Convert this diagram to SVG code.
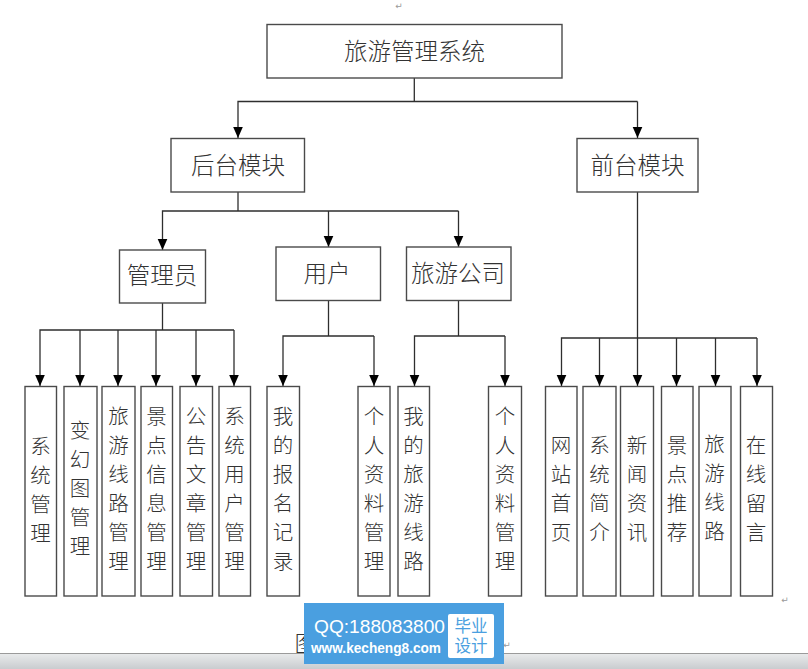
<svg xmlns="http://www.w3.org/2000/svg" width="808" height="669" viewBox="0 0 808 669">
<style>
.n rect{fill:#fff;stroke:#4a4a4a;stroke-width:1.4}
.t{font-family:"Noto Sans CJK SC","Liberation Serif",serif;fill:#333;text-anchor:middle;font-weight:300}
.h{font-size:23.5px}
.v{font-size:20.5px}
.c path{fill:none;stroke:#2e2e2e;stroke-width:1.3}
.m{font-family:"DejaVu Sans",sans-serif;font-size:9px;fill:#999}
</style>
<defs>
<marker id="a" markerUnits="userSpaceOnUse" markerWidth="12" markerHeight="12" refX="11.5" refY="5" orient="auto"><path d="M0 0L11.5 5L0 10Z" fill="#000"/></marker>
<linearGradient id="bar" x1="0" y1="0" x2="0" y2="1"><stop offset="0" stop-color="#e9ebec"/><stop offset="1" stop-color="#c9cccf"/></linearGradient>
</defs>
<rect width="808" height="669" fill="#fff"/>
<g id="connectors" class="c">
<path d="M414.3 78V101.5"/>
<path d="M637.5 101.5H238V138" marker-end="url(#a)"/>
<path d="M637.5 101.5V138" marker-end="url(#a)"/>
<path d="M238 192V211"/>
<path d="M458.5 211H162.5V250" marker-end="url(#a)"/>
<path d="M328.5 211V247" marker-end="url(#a)"/>
<path d="M458.5 211V247" marker-end="url(#a)"/>
<path d="M162.5 303V330"/>
<path d="M234 330H40V386" marker-end="url(#a)"/>
<path d="M80 330V386" marker-end="url(#a)"/>
<path d="M118 330V386" marker-end="url(#a)"/>
<path d="M156 330V386" marker-end="url(#a)"/>
<path d="M196 330V386" marker-end="url(#a)"/>
<path d="M234 330V386" marker-end="url(#a)"/>
<path d="M328.5 300V336"/>
<path d="M374 336H283V386" marker-end="url(#a)"/>
<path d="M374 336V386" marker-end="url(#a)"/>
<path d="M458.5 300V336"/>
<path d="M505 336H414.5V386" marker-end="url(#a)"/>
<path d="M505 336V386" marker-end="url(#a)"/>
<path d="M637.5 192V386" marker-end="url(#a)"/>
<path d="M757 338H561.5V386" marker-end="url(#a)"/>
<path d="M599.5 338V386" marker-end="url(#a)"/>
<path d="M676.5 338V386" marker-end="url(#a)"/>
<path d="M715.5 338V386" marker-end="url(#a)"/>
<path d="M757 338V386" marker-end="url(#a)"/>
</g>
<g id="root" class="n"><rect x="267" y="24.5" width="295" height="53.5"/><text class="t h" x="414.5" y="60">旅游管理系统</text></g>
<g id="backend" class="n"><rect x="171" y="138.5" width="133.5" height="53.5"/><text class="t h" x="238" y="173.5">后台模块</text></g>
<g id="frontend" class="n"><rect x="577" y="138.5" width="121" height="53.5"/><text class="t h" x="637.5" y="173.5">前台模块</text></g>
<g id="admin" class="n"><rect x="119.5" y="250" width="86" height="53"/><text class="t h" x="162" y="284">管理员</text></g>
<g id="user" class="n"><rect x="276" y="247" width="104.5" height="53.5"/><text class="t h" x="327" y="282">用户</text></g>
<g id="company" class="n"><rect x="406.5" y="247" width="104.5" height="53.5"/><text class="t h" x="458" y="282">旅游公司</text></g>
<g id="a1" class="n"><rect x="25" y="386.5" width="31.5" height="209.5"/><text class="t v" x="40.5"><tspan x="40.5" y="454">系</tspan><tspan x="40.5" y="483">统</tspan><tspan x="40.5" y="512">管</tspan><tspan x="40.5" y="541">理</tspan></text></g>
<g id="a2" class="n"><rect x="64" y="386.5" width="33" height="209.5"/><text class="t v" x="80"><tspan x="80" y="438">变</tspan><tspan x="80" y="467">幻</tspan><tspan x="80" y="496">图</tspan><tspan x="80" y="525">管</tspan><tspan x="80" y="554">理</tspan></text></g>
<g id="a3" class="n"><rect x="102" y="386.5" width="33" height="209.5"/><text class="t v" x="118.5"><tspan x="118.5" y="424">旅</tspan><tspan x="118.5" y="453">游</tspan><tspan x="118.5" y="482">线</tspan><tspan x="118.5" y="511">路</tspan><tspan x="118.5" y="540">管</tspan><tspan x="118.5" y="569">理</tspan></text></g>
<g id="a4" class="n"><rect x="141" y="386.5" width="31.5" height="209.5"/><text class="t v" x="156.5"><tspan x="156.5" y="424">景</tspan><tspan x="156.5" y="453">点</tspan><tspan x="156.5" y="482">信</tspan><tspan x="156.5" y="511">息</tspan><tspan x="156.5" y="540">管</tspan><tspan x="156.5" y="569">理</tspan></text></g>
<g id="a5" class="n"><rect x="180" y="386.5" width="32.5" height="209.5"/><text class="t v" x="196"><tspan x="196" y="424">公</tspan><tspan x="196" y="453">告</tspan><tspan x="196" y="482">文</tspan><tspan x="196" y="511">章</tspan><tspan x="196" y="540">管</tspan><tspan x="196" y="569">理</tspan></text></g>
<g id="a6" class="n"><rect x="219" y="386.5" width="31.5" height="209.5"/><text class="t v" x="234.5"><tspan x="234.5" y="424">系</tspan><tspan x="234.5" y="453">统</tspan><tspan x="234.5" y="482">用</tspan><tspan x="234.5" y="511">户</tspan><tspan x="234.5" y="540">管</tspan><tspan x="234.5" y="569">理</tspan></text></g>
<g id="u1" class="n"><rect x="267" y="386.5" width="32.5" height="209.5"/><text class="t v" x="283"><tspan x="283" y="424">我</tspan><tspan x="283" y="453">的</tspan><tspan x="283" y="482">报</tspan><tspan x="283" y="511">名</tspan><tspan x="283" y="540">记</tspan><tspan x="283" y="569">录</tspan></text></g>
<g id="u2" class="n"><rect x="358" y="386.5" width="32" height="209.5"/><text class="t v" x="374"><tspan x="374" y="424">个</tspan><tspan x="374" y="453">人</tspan><tspan x="374" y="482">资</tspan><tspan x="374" y="511">料</tspan><tspan x="374" y="540">管</tspan><tspan x="374" y="569">理</tspan></text></g>
<g id="c1" class="n"><rect x="398" y="386.5" width="31.5" height="209.5"/><text class="t v" x="414"><tspan x="413.5" y="424">我</tspan><tspan x="413.5" y="453">的</tspan><tspan x="413.5" y="482">旅</tspan><tspan x="413.5" y="511">游</tspan><tspan x="413.5" y="540">线</tspan><tspan x="413.5" y="569">路</tspan></text></g>
<g id="c2" class="n"><rect x="488.5" y="386.5" width="33" height="209.5"/><text class="t v" x="505"><tspan x="505" y="424">个</tspan><tspan x="505" y="453">人</tspan><tspan x="505" y="482">资</tspan><tspan x="505" y="511">料</tspan><tspan x="505" y="540">管</tspan><tspan x="505" y="569">理</tspan></text></g>
<g id="f1" class="n"><rect x="545.5" y="386.5" width="31.5" height="209.5"/><text class="t v" x="561"><tspan x="561" y="453">网</tspan><tspan x="561" y="482">站</tspan><tspan x="561" y="511">首</tspan><tspan x="561" y="540">页</tspan></text></g>
<g id="f2" class="n"><rect x="583" y="386.5" width="33" height="209.5"/><text class="t v" x="599.5"><tspan x="599.5" y="453">系</tspan><tspan x="599.5" y="482">统</tspan><tspan x="599.5" y="511">简</tspan><tspan x="599.5" y="540">介</tspan></text></g>
<g id="f3" class="n"><rect x="620.5" y="386.5" width="33" height="209.5"/><text class="t v" x="637"><tspan x="637" y="453">新</tspan><tspan x="637" y="482">闻</tspan><tspan x="637" y="511">资</tspan><tspan x="637" y="540">讯</tspan></text></g>
<g id="f4" class="n"><rect x="661.5" y="386.5" width="31.5" height="209.5"/><text class="t v" x="677"><tspan x="677" y="453">景</tspan><tspan x="677" y="482">点</tspan><tspan x="677" y="511">推</tspan><tspan x="677" y="540">荐</tspan></text></g>
<g id="f5" class="n"><rect x="699" y="386.5" width="32" height="209.5"/><text class="t v" x="715"><tspan x="714.5" y="452">旅</tspan><tspan x="714.5" y="481">游</tspan><tspan x="714.5" y="510">线</tspan><tspan x="714.5" y="539">路</tspan></text></g>
<g id="f6" class="n"><rect x="740.5" y="386.5" width="32" height="209.5"/><text class="t v" x="756.5"><tspan x="756" y="453">在</tspan><tspan x="756" y="482">线</tspan><tspan x="756" y="511">留</tspan><tspan x="756" y="540">言</tspan></text></g>
<text class="m" x="399" y="9" text-anchor="middle">↵</text>
<text class="m" x="785" y="603" text-anchor="middle">↵</text>
<text class="t" x="306" y="652" style="font-size:23px">图</text>
<rect x="0" y="653.5" width="808" height="15.5" fill="url(#bar)"/>
<path d="M0 653.5H808" stroke="#9a9a9a" stroke-width="1"/>
<text class="m" x="507" y="648" text-anchor="middle">↵</text>
<g id="badge">
<rect x="304" y="603" width="200" height="61" fill="#4a9fe0"/>
<rect x="448" y="614" width="46" height="44" rx="2" fill="#fff"/>
<text x="379.5" y="633" text-anchor="middle" style="font-family:'Liberation Sans',sans-serif;font-size:19px;fill:#fff" textLength="131" lengthAdjust="spacingAndGlyphs">QQ:188083800</text>
<text x="376" y="653" text-anchor="middle" style="font-family:'Liberation Sans',sans-serif;font-size:15px;font-weight:700;fill:#fff" textLength="130" lengthAdjust="spacingAndGlyphs">www.kecheng8.com</text>
<text x="471" y="632" text-anchor="middle" style="font-family:'Noto Sans CJK SC',sans-serif;font-size:16.5px;fill:#4a9fe0">毕业</text>
<text x="471" y="652" text-anchor="middle" style="font-family:'Noto Sans CJK SC',sans-serif;font-size:16.5px;fill:#4a9fe0">设计</text>
</g>
</svg>
